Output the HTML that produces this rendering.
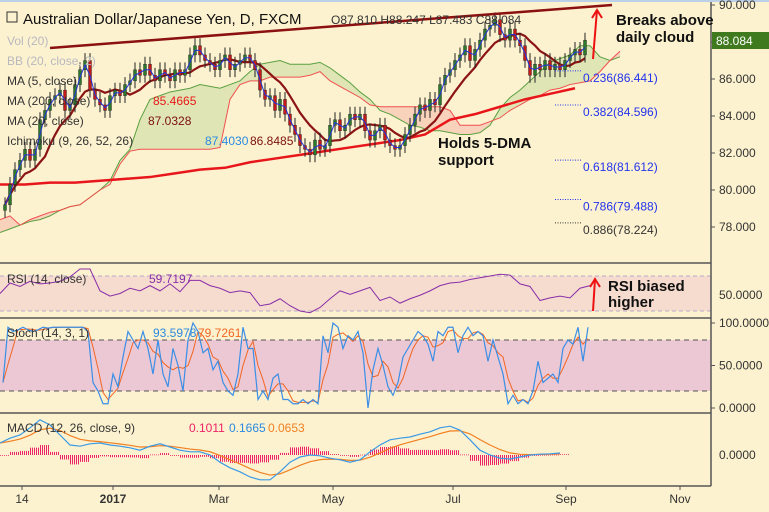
<!DOCTYPE html>
<html><head><meta charset="utf-8"><style>
body{margin:0;background:#fdf2cf;font-family:"Liberation Sans",sans-serif;}
svg{display:block}
</style></head><body>
<svg id="c" width="769" height="512" xmlns="http://www.w3.org/2000/svg"></svg>
<script>
// ---- data ----
const closes=[79.2,80.3,81.1,81.6,82.2,81.6,82.2,83.8,84.3,84.9,85.1,85.4,84.3,84.6,85.7,86.5,87.0,85.4,84.9,84.6,84.3,85.1,85.4,85.1,85.7,85.9,86.5,86.2,86.8,86.2,85.9,86.5,86.2,85.9,86.5,86.2,86.5,87.3,87.8,87.3,87.0,86.8,86.5,87.0,87.3,86.5,86.8,87.0,87.3,87.0,86.5,85.4,84.9,85.1,84.3,84.9,84.1,83.5,83.0,82.4,82.2,81.9,82.7,82.2,82.4,83.5,83.8,83.2,83.5,84.1,83.8,84.1,83.2,82.7,83.2,83.5,82.7,82.4,82.2,82.4,83.0,83.5,84.1,84.6,84.3,84.9,84.6,85.7,86.2,86.5,87.0,87.3,87.8,87.0,87.6,88.1,88.7,88.9,89.2,88.4,88.1,88.7,88.1,87.8,87.0,86.2,86.8,86.5,87.0,86.5,86.8,86.5,87.0,87.3,87.6,87.3,88.1];
const spanA=[77.7,77.9,78.1,78.3,78.4,78.6,78.9,79.1,79.2,79.6,80.0,80.5,81.6,82.2,83.8,84.9,85.1,85.3,85.4,85.5,85.7,85.6,85.5,85.7,85.9,86.4,86.8,86.9,87.0,86.8,86.8,86.8,86.9,86.6,86.2,85.8,85.3,84.9,84.3,84.1,83.8,83.5,83.4,83.2,83.2,83.1,83.0,83.0,83.1,83.5,84.4,85.0,85.4,85.9,86.4,86.9,87.1,87.3,87.8,87.8,87.2,87.0,87.2];
const spanB=[78.4,78.6,78.1,78.4,78.6,78.8,78.9,79.1,79.2,79.6,80.0,80.3,81.4,82.1,82.2,82.2,82.2,82.2,82.2,82.2,82.2,82.2,82.3,84.9,85.7,85.9,85.9,86.1,86.1,86.1,86.1,86.2,86.4,85.9,85.6,85.3,85.0,84.6,84.5,84.5,84.5,84.5,84.5,84.5,84.5,84.3,83.5,83.5,83.5,83.7,83.9,84.3,84.6,84.9,85.1,85.4,85.5,85.7,85.8,85.9,86.4,87.0,87.5];
const ma200=[80.3,80.3,80.4,80.4,80.5,80.6,80.7,80.9,81.1,81.2,81.5,81.7,81.9,82.1,82.3,82.5,82.7,83.0,83.8,84.1,84.5,84.9,85.2,85.5];
const rsi=[50,62,58,64,61,62,64,69,78,78,53,47,50,56,53,59,53,61,52,65,65,59,56,51,53,51,36,38,44,36,30,28,34,44,53,49,53,57,42,46,39,44,48,53,59,62,63,66,68,70,72,71,61,58,42,45,47,45,56,59];
const stochK=[30,95,90,92,95,92,90,92,95,94,95,95,95,95,95,95,95,90,30,20,5,5,40,25,60,90,80,70,90,70,40,80,40,25,70,50,20,80,100,90,65,70,45,55,30,20,15,40,95,70,70,10,20,10,35,40,10,10,5,5,10,5,10,5,85,65,100,95,70,85,80,90,65,0,45,70,50,25,15,30,60,70,80,90,85,75,55,90,85,95,95,65,85,95,85,90,85,55,80,60,40,5,15,5,10,5,20,55,30,35,40,30,70,80,75,95,55,95];
const macd=[0.30,0.42,0.50,0.68,0.88,0.75,0.50,0.25,0.22,0.28,0.30,0.25,0.22,0.18,0.12,0.22,0.28,0.20,0.12,0.08,0.08,0.0,-0.18,-0.32,-0.42,-0.55,-0.62,-0.62,-0.42,-0.18,-0.05,0.0,-0.02,-0.08,-0.12,-0.18,-0.12,0.08,0.25,0.38,0.42,0.45,0.52,0.58,0.68,0.72,0.62,0.38,0.12,0.0,-0.08,-0.10,-0.05,0.0,0.02,0.03,0.05];
const priceTicks=[90,88,86,84,82,80,78];
const fibLevels=[0.236,0.382,0.618,0.786,0.886];
const fibPrices=[86.441,84.596,81.612,79.488,78.224];
const months=["14","2017","Mar","May","Jul","Sep","Nov"];
const monthX=[22,113,219,333,453,566,680];

const S=document.getElementById('c');const NS='http://www.w3.org/2000/svg';
function el(t,a,p){const e=document.createElementNS(NS,t);for(const k in a)e.setAttribute(k,a[k]);(p||S).appendChild(e);return e;}
function tx(x,y,s,a){const e=el('text',Object.assign({x:x,y:y},a));e.textContent=s;return e;}
const yP=p=>5+(90-p)*18.5;
const xC=i=>5+i*5;
const yR=v=>293.5-(v-50)*0.875;
const yS=v=>408-v*0.85;
const yM=v=>455-v*40;

// panel backgrounds
el('rect',{x:0,y:276,width:711,height:35,fill:'#f5dccf'});
el('rect',{x:0,y:340,width:711,height:51,fill:'#ebc8d4'});
[276,311].forEach(y=>el('line',{x1:0,x2:711,y1:y,y2:y,stroke:'#b9a9c8','stroke-dasharray':'4,3'}));
[340,391].forEach(y=>el('line',{x1:0,x2:711,y1:y,y2:y,stroke:'#555','stroke-dasharray':'5,4'}));
[263,318,413,486].forEach(y=>el('line',{x1:0,x2:711,y1:y,y2:y,stroke:'#555','stroke-width':1.5}));
el('line',{x1:711,x2:711,y1:0,y2:486,stroke:'#555','stroke-width':1.5});
el('rect',{x:0,y:0,width:769,height:2,fill:'#bcd0e8'});

// cloud
const g=el('g',{});
for(let i=0;i<spanA.length-1;i++){
 const x1=i*10,x2=x1+10;const up=(spanA[i]+spanA[i+1])>=(spanB[i]+spanB[i+1]);
 const q=el('polygon',{points:`${x1},${yP(spanA[i])} ${x2},${yP(spanA[i+1])} ${x2},${yP(spanB[i+1])} ${x1},${yP(spanB[i])}`,fill:up?'#dbe3b0':'#f8cdb8',opacity:0.85},g);
 
}
let pa=el('polyline',{points:spanA.map((v,i)=>`${i*10},${yP(v)}`).join(' '),fill:'none',stroke:'#5aa040','stroke-width':1});

let pb=el('polyline',{points:spanB.map((v,i)=>`${i*10},${yP(v)}`).join(' '),fill:'none',stroke:'#f05050','stroke-width':1});


// MA200
let m2=el('polyline',{points:ma200.map((v,i)=>`${i*25},${yP(v)}`).join(' '),fill:'none',stroke:'#e8161b','stroke-width':2.5});

function sma(n){return closes.map((c,i)=>{const s=closes.slice(Math.max(0,i-n+1),i+1);return s.reduce((a,b)=>a+b,0)/s.length;});}
let m20=el('polyline',{points:sma(9).map((v,i)=>`${xC(i)},${yP(v)}`).join(' '),fill:'none',stroke:'#8b1414','stroke-width':2.2});

// candles
for(let i=0;i<closes.length;i++){
 const c=closes[i],o=i?closes[i-1]:c-0.3;const up=c>=o;const x=xC(i);
 const hi=Math.max(o,c)+0.4,lo=Math.min(o,c)-0.4;
 const w=el('line',{x1:x,x2:x,y1:yP(hi),y2:yP(lo),stroke:'#222','stroke-width':1});
 
 const b=el('rect',{x:x-1.5,y:yP(Math.max(o,c)),width:3,height:Math.max(1,Math.abs(yP(o)-yP(c))),fill:up?'#2d7a2d':'#c41a1a',stroke:'#222','stroke-width':0.4});
 
}
let m5=el('polyline',{points:sma(2).map((v,i)=>`${xC(i)},${yP(v)}`).join(' '),fill:'none',stroke:'#2233dd','stroke-width':1});


// trendline
let tl=el('line',{x1:50,y1:48,x2:612,y2:5,stroke:'#8b1010','stroke-width':2.5});


// fib
fibPrices.forEach((p,i)=>{const col=i==4?'#333':'#2233ee';
 const l=el('line',{x1:555,x2:581,y1:yP(p),y2:yP(p),stroke:col,'stroke-dasharray':'1,1.5'});
 
 const t=tx(583,yP(p)+11,`${fibLevels[i]}(${p.toFixed(3)})`,{'font-size':12,fill:col});
 });

// price axis
priceTicks.forEach(p=>{const y=yP(p);el('line',{x1:711,x2:715,y1:y,y2:y,stroke:'#555'});
 const t=tx(719,y+4,p.toFixed(3),{'font-size':12,fill:'#333'});});
el('rect',{x:712,y:32,width:57,height:17,fill:'#3f7a1f'});
let cp=tx(716,45,'88.084',{'font-size':12,fill:'#fff'});

// RSI
let rl=el('polyline',{points:rsi.map((v,i)=>`${i*10},${yR(v)}`).join(' '),fill:'none',stroke:'#8a2ea8','stroke-width':1});

let rt=tx(719,299,'50.0000',{'font-size':12,fill:'#333'});
// Stoch
const stochD=stochK.map((v,i)=>(v+stochK[Math.max(0,i-1)]+stochK[Math.max(0,i-2)])/3);
let sd=el('polyline',{points:stochD.map((v,i)=>`${3+i*5},${yS(v)}`).join(' '),fill:'none',stroke:'#f26522','stroke-width':1});

let sk=el('polyline',{points:stochK.map((v,i)=>`${3+i*5},${yS(v)}`).join(' '),fill:'none',stroke:'#3a8ee6','stroke-width':1.2});

[[100,'100.0000'],[50,'50.0000'],[0,'0.0000']].forEach(([v,s])=>{el('line',{x1:711,x2:715,y1:yS(v),y2:yS(v),stroke:'#555'});const t=tx(719,yS(v)+4,s,{'font-size':12,fill:'#333'});});
// MACD
const sig=[];macd.forEach((v,i)=>sig.push(i?sig[i-1]+(v-sig[i-1])*0.35:v));
macd.forEach((v,i)=>{const h=v-sig[i];[0,1,2,3,4].forEach(k=>{const b=el('rect',{x:i*10+k*2,y:Math.min(yM(h),455),width:1,height:Math.max(0.8,Math.abs(h*40)),fill:'#ee2266'});});});
let ms=el('polyline',{points:sig.map((v,i)=>`${i*10},${yM(v)}`).join(' '),fill:'none',stroke:'#f07f22','stroke-width':1.2});

let ml=el('polyline',{points:macd.map((v,i)=>`${i*10},${yM(v)}`).join(' '),fill:'none',stroke:'#3a9ae6','stroke-width':1.2});

let mt=tx(719,459,'0.0000',{'font-size':12,fill:'#333'});

// time axis
months.forEach((m,i)=>{el('line',{x1:monthX[i],x2:monthX[i],y1:486,y2:490,stroke:'#555'});
 const t=tx(monthX[i],503,m,{'font-size':12,fill:'#333','text-anchor':'middle','font-weight':m=='2017'?'bold':'normal'});
 });

// legends
function lab(x,y,s,col,size,name,extra){const t=tx(x,y,s,Object.assign({'font-size':size,fill:col},extra||{}));return t;}
el('rect',{x:7,y:12,width:10,height:10,fill:'none',stroke:'#333'});
lab(23,24,'Australian Dollar/Japanese Yen, D, FXCM','#111',15,'chart-title');
lab(331,24,'O87.810  H88.247  L87.483  C88.084','#333',12,'ohlc-readout');
lab(7,45,'Vol (20)','#b8b8c0',12,'vol-legend');
lab(7,65,'BB (20, close, 2)','#b8b8c0',12,'bb-legend');
lab(7,85,'MA (5, close)','#333',12,'ma5-legend');
lab(7,105,'MA (200, close)','#333',12,'ma200-legend');lab(153,105,'85.4665','#e81818',12,'ma200-value');
lab(7,125,'MA (20, close)','#333',12,'ma20-legend');lab(148,125,'87.0328','#7a1010',12,'ma20-value');
lab(7,145,'Ichimoku (9, 26, 52, 26)','#333',12,'ichimoku-legend');
lab(205,145,'87.4030','#2a8ae0',12,'ichimoku-tenkan');lab(250,145,'86.8485','#7a1010',12,'ichimoku-kijun');
lab(7,283,'RSI (14, close)','#333',12,'rsi-legend');lab(149,283,'59.7197','#8a2ea8',12,'rsi-value');
lab(7,337,'Stoch (14, 3, 1)','#333',12,'stoch-legend');lab(153,337,'93.5978','#2a8ae0',12,'stoch-k-value');lab(198,337,'79.7261','#f26522',12,'stoch-d-value');
lab(7,432,'MACD (12, 26, close, 9)','#333',12,'macd-legend');lab(189,432,'0.1011','#ee2266',12,'macd-hist-value');lab(229,432,'0.1665','#2a8ae0',12,'macd-value');lab(268,432,'0.0653','#f07f22',12,'macd-signal-value');

// annotations
const B={'font-weight':'bold'};
lab(616,25,'Breaks above','#111',15,'annotation-breaks-above',B);lab(616,42,'daily cloud','#111',15,'annotation-breaks-above-2',B);
lab(438,148,'Holds 5-DMA','#111',15,'annotation-holds-5dma',B);lab(438,165,'support','#111',15,'annotation-holds-5dma-2',B);
lab(608,291,'RSI biased','#111',15,'annotation-rsi-biased',B);lab(608,307,'higher','#111',15,'annotation-rsi-biased-2',B);
function arrow(x1,y1,x2,y2,name){const a=el('g',{});
 el('line',{x1:x1,y1:y1,x2:x2,y2:y2,stroke:'#ee1111','stroke-width':2},a);
 el('polyline',{points:`${x2-5},${y2+8} ${x2},${y2} ${x2+5},${y2+8}`,fill:'none',stroke:'#ee1111','stroke-width':2},a);}
arrow(593,59,597,10,'breakout-arrow');arrow(593,311,595,279,'rsi-arrow');
</script>
</body></html>
